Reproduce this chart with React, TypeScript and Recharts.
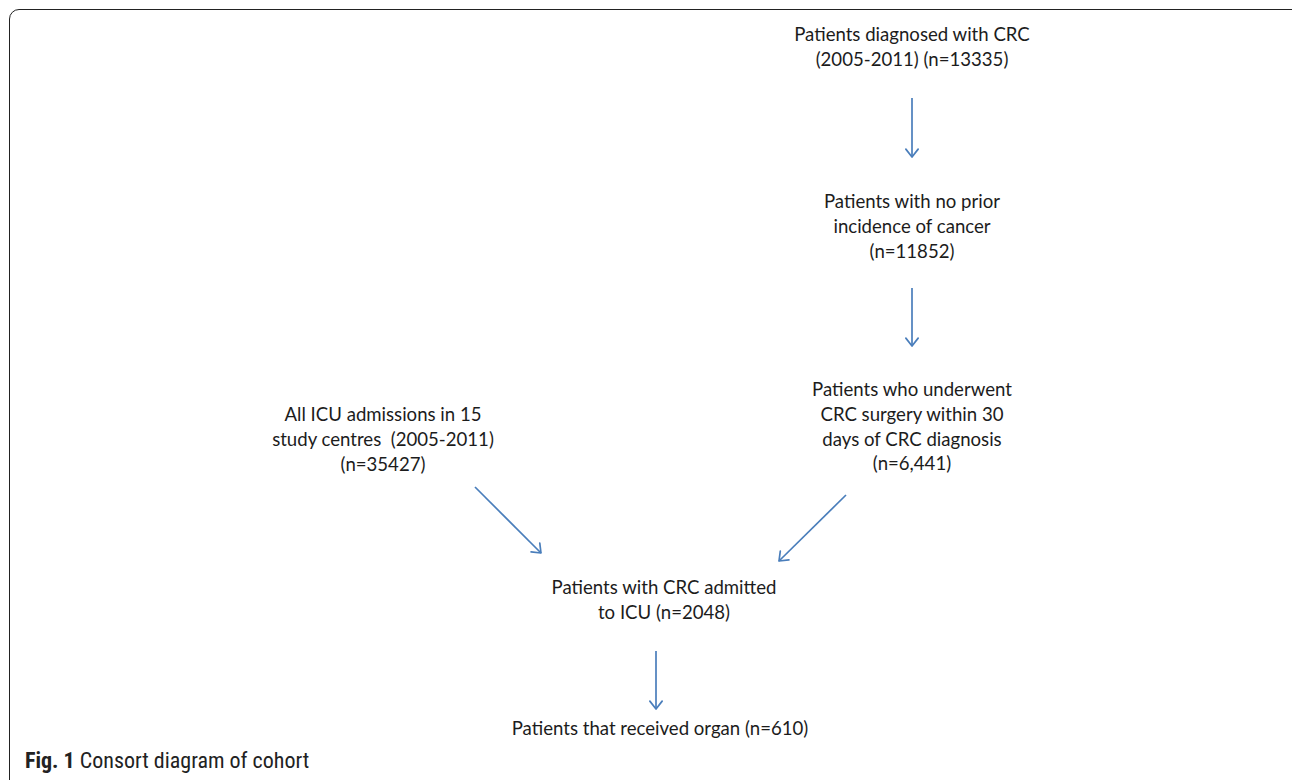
import React from "react";
import { ScatterChart, Scatter, XAxis, YAxis } from "recharts";

// Flow-diagram nodes: layout position (diagram units) and text lines
const nodeIds = ["diagnosed", "noPrior", "surgery", "icuAll", "crcIcu", "organ"];
const nodeX = [912, 912, 912, 383, 664, 660];
const nodeY = [34, 201, 389, 414, 587, 728];
const nodeLines = [
  ["Patients diagnosed with CRC", "(2005-2011) (n=13335)"],
  ["Patients with no prior", "incidence of cancer", "(n=11852)"],
  ["Patients who underwent", "CRC surgery within 30", "days of CRC diagnosis", "(n=6,441)"],
  ["All ICU admissions in 15", "study centres  (2005-2011)", "(n=35427)"],
  ["Patients with CRC admitted", "to ICU (n=2048)"],
  ["Patients that received organ (n=610)"],
];

// Arrows: start and end points (diagram units)
const arrowFromX = [912, 912, 475, 846, 656];
const arrowFromY = [98, 288, 487, 495, 651];
const arrowToX = [912, 912, 541, 779, 656];
const arrowToY = [157, 346, 553, 561, 709];

const captionBold = "Fig. 1";
const captionText = "Consort diagram of cohort";

const W = 1292;
const H = 780;
const ARROW = "#4a7ebb";
const TEXT = "#1c1c1c";
const FONT = "Lato, 'Open Sans', sans-serif";
const FS = 18.6;
const LINE_H = 24.8;

const nodes = nodeIds.map((id, i) => ({ id, x: nodeX[i], y: nodeY[i], lines: nodeLines[i] }));
const arrows = arrowFromX.map((fx, i) => {
  const tx = arrowToX[i];
  const ty = arrowToY[i];
  const fy = arrowFromY[i];
  const angle = Math.atan2(ty - fy, tx - fx);
  return [
    { x: fx, y: fy, head: false, angle },
    { x: tx, y: ty, head: true, angle },
  ];
});

const NodeShape = (props: any) => {
  const { cx, cy, payload } = props;
  return (
    <text x={cx} y={cy} textAnchor="middle" fontFamily={FONT} fontSize={FS} fill={TEXT}>
      {payload.lines.map((l: string, i: number) => (
        <tspan key={i} x={cx} y={cy + i * LINE_H} dominantBaseline="central" style={{ whiteSpace: "pre" }}>
          {l}
        </tspan>
      ))}
    </text>
  );
};

const HeadShape = (props: any) => {
  const { cx, cy, payload } = props;
  if (!payload.head) return <g />;
  const a = payload.angle;
  const len = 10;
  const spread = (38 * Math.PI) / 180;
  const p1x = cx - len * Math.cos(a - spread);
  const p1y = cy - len * Math.sin(a - spread);
  const p2x = cx - len * Math.cos(a + spread);
  const p2y = cy - len * Math.sin(a + spread);
  return (
    <polyline
      points={`${p1x},${p1y} ${cx},${cy} ${p2x},${p2y}`}
      fill="none"
      stroke={ARROW}
      strokeWidth={1.7}
      strokeLinecap="round"
      strokeLinejoin="round"
    />
  );
};

export default function App() {
  return (
    <div style={{ position: "absolute", left: 0, top: 0, width: W, height: H, overflow: "hidden", background: "#fff" }}>
      <div
        style={{
          position: "absolute",
          left: 9,
          top: 9,
          width: W + 20,
          height: H + 40,
          border: "1.6px solid #222",
          borderRadius: 10,
          boxSizing: "border-box",
        }}
      />
      <div style={{ position: "absolute", left: 0, top: 0 }}>
        <ScatterChart width={W} height={H} margin={{ top: 0, right: 0, bottom: 0, left: 0 }}>
          <XAxis type="number" dataKey="x" domain={[0, W]} hide allowDataOverflow />
          <YAxis type="number" dataKey="y" domain={[0, H]} reversed hide allowDataOverflow />
          {arrows.map((a, i) => (
            <Scatter
              key={"a" + i}
              data={a}
              line={{ stroke: ARROW, strokeWidth: 1.7 }}
              shape={HeadShape}
              isAnimationActive={false}
            />
          ))}
          <Scatter data={nodes} shape={NodeShape} isAnimationActive={false} />
        </ScatterChart>
      </div>
      <div
        style={{
          position: "absolute",
          left: 25,
          top: 749,
          fontFamily: "'Liberation Sans Narrow', 'Roboto Condensed', 'Liberation Sans', sans-serif",
          fontSize: 22,
          color: "#222",
          whiteSpace: "pre",
          lineHeight: "24px",
        }}
      >
        <b>{captionBold}</b> {captionText}
      </div>
    </div>
  );
}
